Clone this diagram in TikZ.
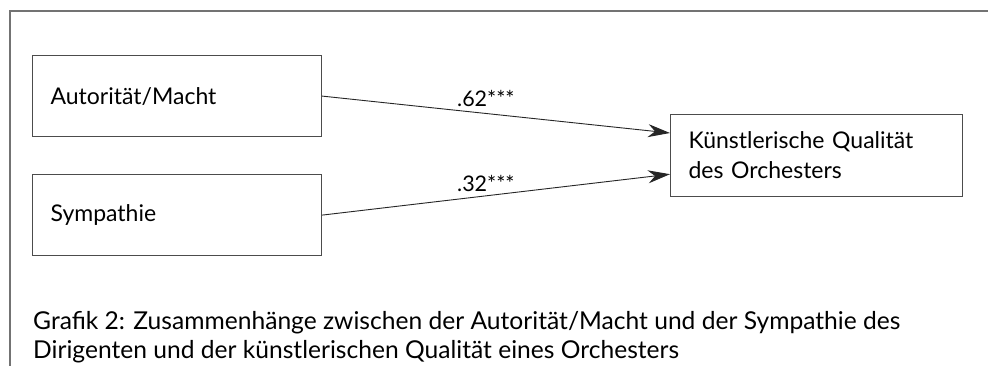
\documentclass[tikz,border=0pt]{standalone}
\usepackage{fontspec}
\setmainfont{Lato}
\usetikzlibrary{arrows.meta,calc}
\begin{document}
\begin{tikzpicture}[x=1pt,y=-1pt,
  frame/.style={draw=black!55,line width=1.3pt},
  box/.style={draw=black!70,line width=1.2pt,rectangle,align=left,
    inner xsep=18pt,inner ysep=0pt,anchor=north west,
    font=\fontsize{23}{30}\selectfont},
  conn/.style={draw=black!85,line width=0.9pt,
    -{Stealth[length=22pt,width=13pt,inset=7pt]}},
  lab/.style={font=\fontsize{21.5}{24}\selectfont,anchor=base west,inner sep=0pt},
  captxt/.style={font=\fontsize{24.6}{29}\selectfont,anchor=north west,align=left,inner sep=0pt}]
\useasboundingbox (0,0) rectangle (988,366);
\fill[white] (0,0) rectangle (988,366);
\coordinate (tl) at (10,11);
\coordinate (tr) at (988,11);
\coordinate (bl) at (10,366);
\draw[frame] (tr) -- (tl) -- (bl);
\node[box,minimum width=289pt,minimum height=81pt,text width=253pt] (a) at (32,55) {Autorität/Macht};
\node[box,minimum width=289pt,minimum height=81pt,text width=253pt] (s) at (32,174) {Sympathie};
\node[box,minimum width=292pt,minimum height=82pt,text width=256pt] (k) at (670,114) {Künstlerische Qualität\\des Orchesters};
\draw[conn] (a.east) -- ($(k.north west)+(0,19)$);
\draw[conn] (s.east) -- ($(k.south west)+(0,-23)$);
\node[lab] (l1) at (457,107) {.62***};
\node[lab] (l2) at (457,192) {.32***};
\node[captxt] (c) at (33,311) {Grafik 2: Zusammenhänge zwischen der Autorität/Macht und der Sympathie des\\Dirigenten und der künstlerischen Qualität eines Orchesters};
\end{tikzpicture}
\end{document}
